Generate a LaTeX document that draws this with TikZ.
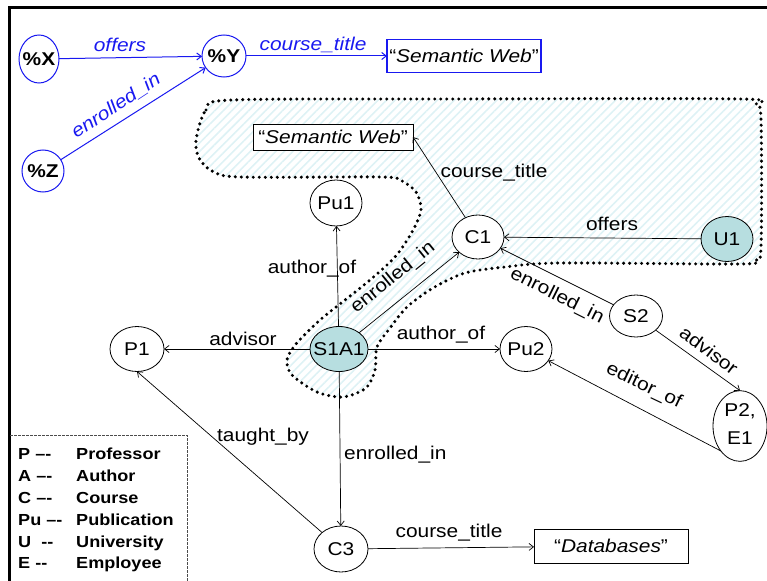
\documentclass[tikz,border=0pt]{standalone}
\usepackage{fontspec}
\setmainfont{Liberation Sans}[FakeStretch=1.13]
\usetikzlibrary{shapes.geometric,arrows.meta,patterns.meta}
\definecolor{nodeteal}{RGB}{183,222,224}
\definecolor{hatchcyan}{RGB}{222,242,245}
\definecolor{qblue}{RGB}{25,25,240}
\begin{document}
\begin{tikzpicture}[x=1pt,y=-1pt,
  font=\fontsize{18.5}{22}\selectfont,
  ent/.style={ellipse,draw,fill=white,line width=0.8pt,inner sep=0pt,outer sep=0pt},
  qent/.style={ellipse,draw=qblue,fill=white,line width=1pt,inner sep=0pt,outer sep=0pt,
    font=\fontsize{18.5}{22}\selectfont\bfseries},
  lit/.style={rectangle,draw,fill=white,line width=0.8pt,inner sep=0pt,outer sep=0pt},
  rel/.style={line width=0.7pt,-{Straight Barb[length=4.5pt,width=7pt]}},
  qrel/.style={rel,draw=qblue,line width=1pt},
  lab/.style={inner sep=0pt,anchor=base},
  qlab/.style={lab,text=qblue,font=\fontsize{18.5}{22}\selectfont\itshape},
  key/.style={inner sep=0pt,anchor=base west,font=\fontsize{16}{19}\selectfont\bfseries},
  blobfill/.style={pattern={Lines[angle=45,distance=6pt,line width=1.6pt]},pattern color=hatchcyan},
  blobline/.style={line width=3.4pt,dash pattern=on 0pt off 6pt,line cap=round},
]
\useasboundingbox (0,0) rectangle (767,580);

% outer frame
\draw[line width=3pt] (9,585) -- (9,8) -- (772,8);

% dotted region around the matched subgraph
\def\blobpath{plot[smooth cycle, tension=0.5] coordinates {
  (196,140) (206,110) (232,100) (450,99) (740,99) (756,105) (761,120)
  (761,248) (755,260) (740,264) (560,263) (505,267) (465,273) (433,288)
  (407,307) (390,328) (377,347) (375,370) (366,388) (343,397) (317,392)
  (292,375) (287,360) (296,344) (320,320) (345,300) (370,280) (395,257)
  (412,232) (421,210) (416,192) (400,180) (380,177) (240,177) (212,171)
  (199,158)}}
\fill[blobfill] \blobpath;
\draw[blobline] \blobpath;

% query pattern
\node[qent, minimum width=40, minimum height=48] (qx) at (39,59) {\makebox[0pt]{\%X}};
\node[qent, minimum width=44, minimum height=42] (qy) at (224,56) {\makebox[0pt]{\%Y}};
\node[qent, minimum width=42, minimum height=42] (qz) at (43,171) {\makebox[0pt]{\%Z}};
\node[lit, draw=qblue, line width=1.2pt, minimum width=154, minimum height=33] (qlit) at (464,56) {“\textit{Semantic Web}”};
\draw[qrel] (qx) -- (qy);
\draw[qrel] (qy) -- (qlit);
\draw[qrel] (qz) -- (qy);
\node[qlab] (q-off) at (120,52) {offers};
\node[qlab] (q-ct) at (313,51) {course\_title};
\node[qlab, anchor=center, rotate=33.4] (q-en) at (116,106) {enrolled\_in};

% data graph
\node[lit, minimum width=160, minimum height=26] (sw) at (333,137) {“\textit{Semantic Web}”};
\node[ent, minimum width=52, minimum height=46] (pu1) at (336,203) {\makebox[0pt]{Pu1}};
\node[ent, minimum width=52, minimum height=44] (c1) at (478,237) {\makebox[0pt]{C1}};
\node[ent, fill=nodeteal, minimum width=52, minimum height=45] (u1) at (727,239) {\makebox[0pt]{U1}};
\node[ent, fill=nodeteal, minimum width=58, minimum height=45] (s1a1) at (339,349) {\makebox[0pt]{S1A1}};
\node[ent, minimum width=54, minimum height=45] (p1) at (137,349) {\makebox[0pt]{P1}};
\node[ent, minimum width=52, minimum height=45] (pu2) at (526,349) {\makebox[0pt]{Pu2}};
\node[ent, minimum width=53, minimum height=42] (s2) at (636,316) {\makebox[0pt]{S2}};
\node[ent, minimum width=54, minimum height=60] (pe) at (740,426)
  {\makebox[0pt]{\begin{tabular}{@{}c@{}}P2,\\[6pt]E1\end{tabular}}};
\node[ent, minimum width=54, minimum height=46] (c3) at (341,549) {\makebox[0pt]{C3}};
\node[lit, minimum width=154, minimum height=34] (db) at (611,546) {“\textit{Databases}”};

\draw[rel] (s1a1) -- (pu1);
\draw[rel] (s1a1) -- (c1);
\draw[rel] (c1) -- (sw.east);
\draw[rel] (u1) -- (c1);
\draw[rel] (s2) -- (c1);
\draw[rel] (s1a1) -- (p1);
\draw[rel] (s1a1) -- (pu2);
\draw[rel] (s2) -- (pe.north);
\draw[rel] (pe.south west) -- (pu2);
\draw[rel] (c3) -- (p1.south);
\draw[rel] (s1a1) -- (c3);
\draw[rel] (c3) -- (db);

\node[lab] (l-ct1) at (494,177) {course\_title};
\node[lab] (l-off) at (612,230) {offers};
\node[lab] (l-ao1) at (312,273) {author\_of};
\node[lab, anchor=center, rotate=39] (l-en1) at (393,278) {enrolled\_in};
\node[lab, anchor=center, rotate=-26.6] (l-en2) at (557,296) {enrolled\_in};
\node[lab] (l-adv1) at (243,345) {advisor};
\node[lab] (l-ao2) at (441,339) {author\_of};
\node[lab, anchor=center, rotate=-36.7] (l-adv2) at (709,350) {advisor};
\node[lab, anchor=center, rotate=-25.4] (l-ed) at (644,386) {editor\_of};
\node[lab] (l-tb) at (263,441) {taught\_by};
\node[lab, anchor=base west] (l-en3) at (344,459) {enrolled\_in};
\node[lab] (l-ct3) at (449,537) {course\_title};

% legend
\draw[dash pattern=on 2.5pt off 1.5pt, line width=0.7pt, draw=black!70] (10,435) -- (187,435) -- (187,585);
\node[key] (k1a) at (18,459) {P –-};   \node[key] (k1b) at (76,459) {Professor};
\node[key] (k2a) at (18,481) {A –-};   \node[key] (k2b) at (76,481) {Author};
\node[key] (k3a) at (18,503) {C –-};   \node[key] (k3b) at (76,503) {Course};
\node[key] (k4a) at (18,525) {Pu –-};  \node[key] (k4b) at (76,525) {Publication};
\node[key] (k5a) at (18,547) {U\ \ -{}-}; \node[key] (k5b) at (76,547) {University};
\node[key] (k6a) at (18,568) {E -{}-}; \node[key] (k6b) at (76,568) {Employee};
\end{tikzpicture}
\end{document}
